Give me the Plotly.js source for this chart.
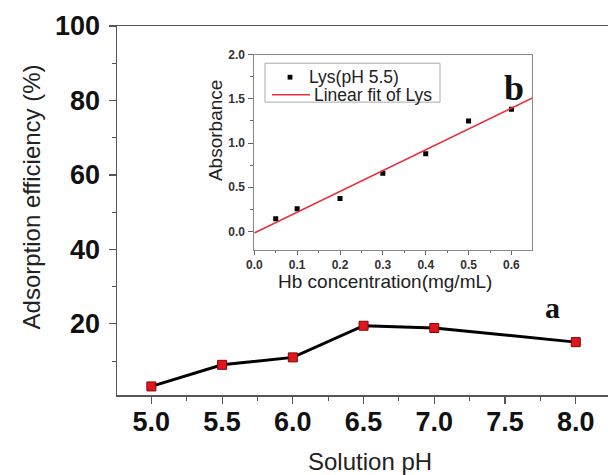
<!DOCTYPE html>
<html>
<head>
<meta charset="utf-8">
<script src="https://cdn.plot.ly/plotly-3.0.1.min.js"></script>
<style>html,body{margin:0;padding:0;background:#fff}#chart{width:608px;height:475px}</style>
</head>
<body>
<div id="chart"></div>
<script>
// Main chart (a)
const pH = [5.0, 5.5, 6.0, 6.5, 7.0, 8.0];
const efficiency = [3.2, 9.0, 11.0, 19.5, 18.9, 15.1];
const mainXTicks = [5.0, 5.5, 6.0, 6.5, 7.0, 7.5, 8.0];
const mainYTicks = [20, 40, 60, 80, 100];
// Inset chart (b)
const hbConc = [0.05, 0.1, 0.2, 0.3, 0.4, 0.5, 0.6];
const absorbance = [0.143, 0.256, 0.372, 0.658, 0.880, 1.248, 1.383];
const fitX = [0, 0.65];
const fitY = [-0.017, 1.512];
const insetXTicks = [0.0, 0.1, 0.2, 0.3, 0.4, 0.5, 0.6];
const insetYTicks = [0.0, 0.5, 1.0, 1.5, 2.0];
const legendNames = ['Lys(pH 5.5)', 'Linear fit of Lys'];

const SANS = 'Liberation Sans, Arial, sans-serif';
const SERIF = 'Liberation Serif, Times New Roman, serif';
const FIT_RED = '#e8303a';

const traces = [
  {
    x: pH, y: efficiency, xaxis: 'x', yaxis: 'y', type: 'scatter', mode: 'lines+markers',
    line: {color: '#000', width: 3},
    marker: {symbol: 'square', size: 9, color: '#e0161c', line: {color: '#7a0a0a', width: 1}},
    showlegend: false, cliponaxis: false
  },
  {
    x: hbConc, y: absorbance, xaxis: 'x2', yaxis: 'y2', type: 'scatter', mode: 'markers',
    name: legendNames[0], showlegend: false,
    marker: {symbol: 'square', size: 5, color: '#000'}
  },
  {
    x: fitX, y: fitY, xaxis: 'x2', yaxis: 'y2', type: 'scatter', mode: 'lines',
    name: legendNames[1], showlegend: false,
    line: {color: FIT_RED, width: 1.5}
  }
];

const W = 608, H = 475;
const L = 117, R = 0, T = 25.7, B = 79.5;
const pw = W - L - R, ph = H - T - B;
function px(x) { return (x - L) / pw; }
function py(y) { return (H - B - y) / ph; }

const layout = {
  width: W, height: H,
  margin: {l: L, r: R, t: T, b: B, pad: 0},
  paper_bgcolor: '#fff', plot_bgcolor: '#fff',
  font: {family: SANS, color: '#111'},
  showlegend: false,
  xaxis: {
    domain: [0, 1], range: [4.757, 8.228], anchor: 'y',
    tickvals: mainXTicks, tickformat: '.1f',
    ticks: 'outside', ticklen: 7, tickwidth: 1.2, tickcolor: '#555',
    minor: {dtick: 0.25, tick0: 5.0, ticks: 'outside', ticklen: 4, tickcolor: '#555', tickwidth: 1},
    showline: true, linecolor: '#555', linewidth: 1.5, mirror: true,
    showgrid: false, zeroline: false, ticklabelstandoff: -5,
    tickfont: {family: SANS, size: 27, weight: 'bold', color: '#111'}
  },
  yaxis: {
    domain: [0, 1], range: [0.9, 100], anchor: 'x',
    tickvals: mainYTicks,
    ticks: 'outside', ticklen: 7, tickwidth: 1.2, tickcolor: '#555',
    minor: {dtick: 10, tick0: 0, ticks: 'outside', ticklen: 4, tickcolor: '#555', tickwidth: 1},
    showline: true, linecolor: '#555', linewidth: 1.5, mirror: false,
    showgrid: false, zeroline: false, ticklabelstandoff: 3,
    tickfont: {family: SANS, size: 27, weight: 'bold', color: '#111'}
  },
  xaxis2: {
    domain: [px(254.3), px(532)], range: [0, 0.648], anchor: 'y2',
    tickvals: insetXTicks, tickformat: '.1f',
    ticks: 'outside', ticklen: 4, tickcolor: '#666', tickwidth: 1,
    minor: {dtick: 0.05, tick0: 0, ticks: 'outside', ticklen: 2.5, tickcolor: '#666'},
    showline: true, linecolor: '#888', linewidth: 1, mirror: true,
    showgrid: false, zeroline: false,
    tickfont: {family: SANS, size: 12, weight: 'bold', color: '#333'}
  },
  yaxis2: {
    domain: [py(250), py(54.3)], range: [-0.207, 2.0], anchor: 'x2',
    tickvals: insetYTicks, tickformat: '.1f',
    ticks: 'outside', ticklen: 5, tickcolor: '#666', tickwidth: 1,
    minor: {dtick: 0.25, tick0: 0, ticks: 'outside', ticklen: 3, tickcolor: '#666'},
    showline: true, linecolor: '#888', linewidth: 1, mirror: true,
    showgrid: false, zeroline: false, ticklabelstandoff: 1,
    tickfont: {family: SANS, size: 12, weight: 'bold', color: '#333'}
  },
  shapes: [
    // inset legend box
    {type: 'rect', xref: 'paper', yref: 'paper', x0: px(265), x1: px(440), y0: py(102), y1: py(63),
     line: {color: '#aaa', width: 1}, fillcolor: '#fff', layer: 'above'},
    // legend symbol: data marker
    {type: 'rect', xref: 'paper', yref: 'paper', x0: px(287.6), x1: px(292.4), y0: py(79.4), y1: py(74.6),
     line: {width: 0}, fillcolor: '#000', layer: 'above'},
    // legend symbol: fit line
    {type: 'line', xref: 'paper', yref: 'paper', x0: px(272), x1: px(310), y0: py(94.5), y1: py(94.5),
     line: {color: FIT_RED, width: 1.5}, layer: 'above'}
  ],
  annotations: [
    {text: legendNames[0], xref: 'paper', yref: 'paper', x: px(307), y: py(77),
     xanchor: 'left', yanchor: 'middle', showarrow: false,
     font: {family: SANS, size: 17.5, color: '#222'}},
    {text: legendNames[1], xref: 'paper', yref: 'paper', x: px(312), y: py(95),
     xanchor: 'left', yanchor: 'middle', showarrow: false,
     font: {family: SANS, size: 17.5, color: '#222'}},
    {text: 'Adsorption efficiency (%)', xref: 'paper', yref: 'paper', x: px(31.5), y: py(197),
     xanchor: 'center', yanchor: 'middle', textangle: -90, showarrow: false,
     font: {family: SANS, size: 24, color: '#222'}},
    {text: 'Solution pH', xref: 'paper', yref: 'paper', x: px(370), y: py(462),
     xanchor: 'center', yanchor: 'middle', showarrow: false,
     font: {family: SANS, size: 24, color: '#222'}},
    {text: 'Absorbance', xref: 'paper', yref: 'paper', x: px(215.5), y: py(130.5),
     xanchor: 'center', yanchor: 'middle', textangle: -90, showarrow: false,
     font: {family: SANS, size: 19, color: '#222'}},
    {text: 'Hb concentration(mg/mL)', xref: 'paper', yref: 'paper', x: px(385), y: py(282),
     xanchor: 'center', yanchor: 'middle', showarrow: false,
     font: {family: SANS, size: 19, color: '#222'}},
    {text: 'a', xref: 'paper', yref: 'paper', x: px(552), y: py(308),
     xanchor: 'center', yanchor: 'middle', showarrow: false,
     font: {family: SERIF, size: 30, weight: 'bold', color: '#111'}},
    {text: 'b', xref: 'paper', yref: 'paper', x: px(514), y: py(88),
     xanchor: 'center', yanchor: 'middle', showarrow: false,
     font: {family: SERIF, size: 36, weight: 'bold', color: '#111'}}
  ]
};

Plotly.newPlot('chart', traces, layout, {displayModeBar: false, staticPlot: true});
</script>
</body>
</html>
